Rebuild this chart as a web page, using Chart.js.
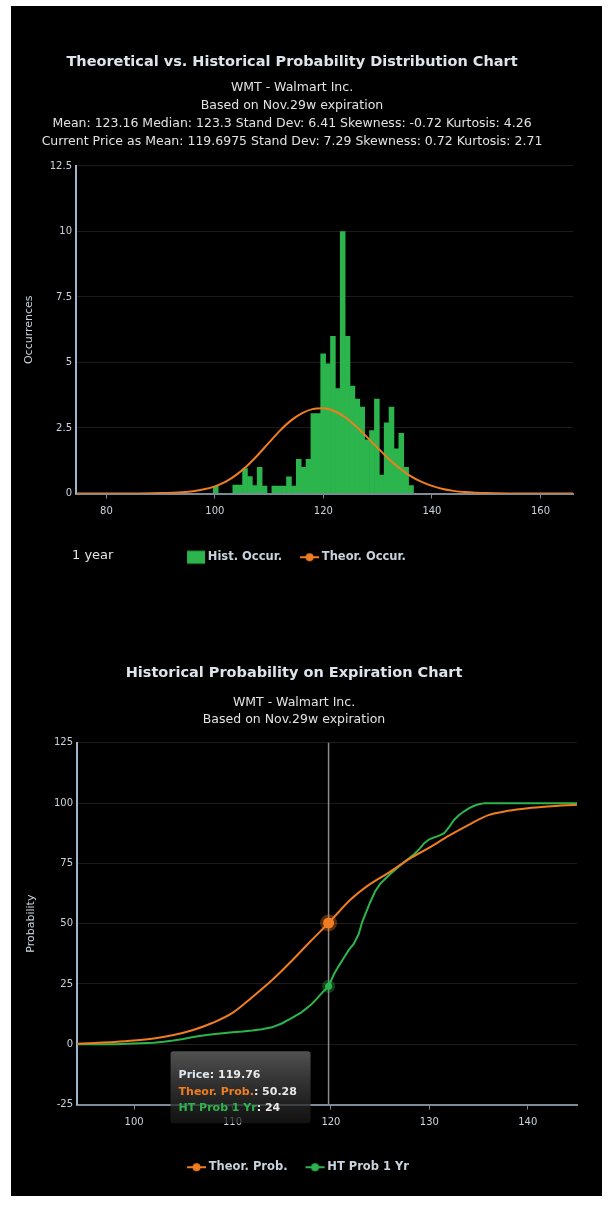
<!DOCTYPE html>
<html>
<head>
<meta charset="utf-8">
<script src="https://cdn.jsdelivr.net/npm/chart.js@4.4.1/dist/chart.umd.min.js"></script>
<style>
  html, body { margin: 0; padding: 0; background: #fff; }
  body { width: 608px; height: 1207px; position: relative; overflow: hidden; }
  #panel { position: absolute; left: 11px; top: 6px; width: 591px; height: 1190px; background: #000; }
  .box { position: absolute; left: 11px; }
  #box1 { top: 6px; }
  #box2 { top: 600px; }
  #yearLabel { position: absolute; left: 72px; top: 547px; line-height: 18px; color: #e4e4e4; font: 13px "DejaVu Sans", sans-serif; }
</style>
</head>
<body>
<div id="panel"></div>
<div class="box" id="box1"><canvas id="distChart" width="574" height="567"></canvas></div>
<div class="box" id="box2"><canvas id="probChart" width="574" height="583"></canvas></div>
<div id="yearLabel">1 year</div>
<script>
// ---- data ----
var histPrices = [100.15, 101.05, 101.95, 102.85, 103.75, 104.65, 105.55, 106.45, 107.35, 108.25,
  109.15, 110.05, 110.95, 111.85, 112.75, 113.65, 114.55, 115.45, 116.35, 117.25,
  118.15, 119.05, 119.95, 120.85, 121.75, 122.65, 123.55, 124.45, 125.35, 126.25,
  127.15, 128.05, 128.95, 129.85, 130.75, 131.65, 132.55, 133.45, 134.35, 135.25, 136.15];
var histCounts = [0.27, 0, 0, 0, 0.32, 0.32, 0.95, 0.65, 0.3, 1.0,
  0.28, 0, 0.28, 0.28, 0.28, 0.64, 0.28, 1.3, 1.0, 1.3,
  3.05, 3.05, 5.33, 4.95, 6.0, 4.0, 10.0, 6.0, 4.1, 3.6,
  3.3, 2.05, 2.4, 3.6, 0.7, 2.7, 3.3, 1.7, 2.3, 1.0, 0.3];

var theorPrices = [74, 80, 85, 90, 94, 96, 98, 100, 102, 104, 106, 108, 110, 112, 114, 116, 118, 120,
  122, 124, 126, 128, 130, 132, 134, 136, 138, 140, 142, 144, 146, 148, 150, 155, 160, 166];
var theorOccur = [0, 0, 0.003, 0.015, 0.05, 0.09, 0.16, 0.27, 0.45, 0.72, 1.07, 1.49, 1.95, 2.4, 2.78, 3.06, 3.22, 3.25,
  3.15, 2.91, 2.57, 2.16, 1.74, 1.33, 0.97, 0.67, 0.45, 0.29, 0.17, 0.1, 0.055, 0.03, 0.015, 0.003, 0, 0];

var probPrices = [94.2, 96, 98, 100, 102, 104, 106, 108, 110, 112, 114, 116, 118, 119.76, 122, 124, 126, 128,
  130, 132, 134, 136, 138, 140, 142, 144, 145];
var theorProb = [0.2, 0.5, 0.9, 1.5, 2.4, 3.8, 5.9, 8.9, 13, 19.5, 26.5, 34.5, 43, 50.28, 60, 66.5, 71.5, 77,
  81.5, 86.5, 91, 95, 96.8, 97.9, 98.6, 99.1, 99.3];

var htPrices = [94.2, 96, 98, 100, 102, 103, 104, 105, 106, 107, 108, 109, 110, 111, 112, 113, 114, 115, 116, 117,
  118, 118.6, 119.2, 119.76, 120.3, 120.8, 121.3, 121.8, 122.3, 122.8, 123.2, 123.6, 124, 124.5, 125, 125.5,
  126, 126.5, 127, 127.5, 128, 128.5, 129, 129.5, 130, 130.5, 131, 131.5, 132, 132.5, 133, 133.5, 134, 134.5,
  135, 135.6, 140, 145];
var htProb = [0, 0, 0, 0.3, 0.6, 1.0, 1.5, 2.2, 3.0, 3.6, 4.1, 4.6, 5.0, 5.3, 5.7, 6.2, 7.0, 8.6, 10.8, 13.2,
  16.5, 19, 21.8, 24, 29, 32.5, 35.8, 39, 41.5, 45.5, 51, 55, 59, 63.5, 66.5, 68.5,
  70.5, 72.3, 74, 75.8, 77.3, 79, 81, 83.5, 85, 85.8, 86.5, 87.5, 90, 93, 95, 96.5, 97.8, 98.8,
  99.5, 100, 100, 100];

var hoverPrice = 119.76;

var occTicks = [0, 2.5, 5, 7.5, 10, 12.5];
var priceTicks1 = [80, 100, 120, 140, 160];
var probTicks = [-25, 0, 25, 50, 75, 100, 125];
var priceTicks2 = [100, 110, 120, 130, 140];

// ---- look ----
var FONT = '"DejaVu Sans", sans-serif';
var ORANGE = '#f07d1f';
var GREEN = '#2bb54c';
var TXT = '#c9d3dd';
var GRID = '#1c1c1c';

function legendMarker(color, kind) {
  var c = document.createElement('canvas');
  c.width = 60; c.height = 16;
  var g = c.getContext('2d');
  g.fillStyle = color; g.strokeStyle = color;
  if (kind === 'box') {
    g.fillRect(27, 1.5, 18, 13);
  } else {
    g.lineWidth = 2;
    g.beginPath(); g.moveTo(26, 8); g.lineTo(45, 8); g.stroke();
    g.beginPath(); g.arc(35.5, 8, 4, 0, Math.PI * 2); g.fill();
  }
  return c;
}

function legendOpts(markers) {
  return {
    position: 'bottom',
    labels: {
      usePointStyle: true,
      pointStyleWidth: 24,
      padding: 10,
      color: TXT,
      font: { family: FONT, size: 11.5, weight: 'bold' },
      generateLabels: function(chart) {
        return chart.data.datasets.map(function(ds, i) {
          return { text: ds.label, pointStyle: markers[i], fillStyle: ds.borderColor,
                   strokeStyle: ds.borderColor, lineWidth: 0, fontColor: TXT, datasetIndex: i, hidden: false };
        });
      }
    }
  };
}

function pairs(xs, ys) {
  return xs.map(function(v, i) { return { x: v, y: ys[i] }; });
}

// ---- chart 1 ----
new Chart(document.getElementById('distChart'), {
  type: 'bar',
  data: {
    datasets: [
      {
        label: 'Hist. Occur.',
        data: pairs(histPrices, histCounts),
        backgroundColor: GREEN,
        borderColor: GREEN,
        borderWidth: 0,
        barPercentage: 1,
        categoryPercentage: 1,
        order: 2
      },
      {
        type: 'line',
        label: 'Theor. Occur.',
        data: pairs(theorPrices, theorOccur),
        borderColor: ORANGE,
        backgroundColor: ORANGE,
        borderWidth: 2,
        pointRadius: 0,
        cubicInterpolationMode: 'monotone',
        order: 1
      }
    ]
  },
  options: {
    responsive: false,
    animation: false,
    layout: { padding: { left: 0, right: 12, top: 0, bottom: 0 } },
    plugins: {
      tooltip: { enabled: false },
      title: {
        display: true,
        text: 'Theoretical vs. Historical Probability Distribution Chart',
        color: '#dde4ec',
        font: { family: FONT, size: 14.5, weight: 'bold', lineHeight: 1.3 },
        padding: { top: 46.6, bottom: 7.5 }
      },
      subtitle: {
        display: true,
        text: ['WMT - Walmart Inc.', 'Based on Nov.29w expiration',
               'Mean: 123.16 Median: 123.3 Stand Dev: 6.41 Skewness: -0.72 Kurtosis: 4.26',
               'Current Price as Mean: 119.6975 Stand Dev: 7.29 Skewness: 0.72 Kurtosis: 2.71'],
        color: '#e2e2e2',
        font: { family: FONT, size: 12.5, lineHeight: 1.44 },
        padding: { top: 0, bottom: 15 }
      },
      legend: legendOpts([legendMarker(GREEN, 'box'), legendMarker(ORANGE, 'line')])
    },
    scales: {
      x: {
        type: 'linear', min: 74.4, max: 166, offset: false,
        afterBuildTicks: function(s) { s.ticks = priceTicks1.map(function(v) { return { value: v }; }); },
        afterFit: function(s) { s.height = 48; },
        ticks: { color: TXT, font: { family: FONT, size: 10 }, padding: 7, maxRotation: 0 },
        grid: { offset: false, drawOnChartArea: false, drawTicks: true, tickLength: 5, color: '#7d8a97' },
        border: { color: '#7d8a97', width: 2 }
      },
      y: {
        min: 0, max: 12.5,
        afterBuildTicks: function(s) { s.ticks = occTicks.map(function(v) { return { value: v }; }); },
        afterFit: function(s) { s.width = 65; },
        ticks: { color: TXT, font: { family: FONT, size: 10 }, padding: 4 },
        grid: { color: GRID, drawTicks: false },
        border: { color: '#9fb5ca', width: 2 },
        title: { display: true, text: 'Occurrences', color: TXT, font: { family: FONT, size: 11 }, padding: { top: 12, bottom: 0 } }
      }
    }
  }
});

// ---- chart 2 ----
var hoverPlugin = {
  id: 'hoverReadout',
  beforeDatasetsDraw: function(chart) {
    var ctx = chart.ctx, a = chart.chartArea;
    var px = chart.scales.x.getPixelForValue(hoverPrice);
    ctx.save();
    ctx.strokeStyle = '#8a8a8a';
    ctx.lineWidth = 1.5;
    ctx.beginPath(); ctx.moveTo(px, a.top); ctx.lineTo(px, a.bottom); ctx.stroke();
    ctx.restore();
  },
  afterDraw: function(chart) {
    var ctx = chart.ctx;
    var px = chart.scales.x.getPixelForValue(hoverPrice);
    var top = chart.scales.y.getPixelForValue(0) + 7;
    var w = 140, h = 72, left = px - 18 - w;
    ctx.save();
    var grad = ctx.createLinearGradient(0, top, 0, top + h);
    grad.addColorStop(0, 'rgba(88,88,88,0.92)');
    grad.addColorStop(1, 'rgba(25,25,25,0.7)');
    ctx.fillStyle = grad;
    ctx.beginPath();
    ctx.roundRect(left, top, w, h, 3);
    ctx.fill();
    var theorVal = theorProb[probPrices.indexOf(hoverPrice)];
    var htVal = htProb[htPrices.indexOf(hoverPrice)];
    var rows = [
      [['Price', '#dfe7f0'], [': ' + hoverPrice, '#e8e8e8']],
      [['Theor. Prob.', ORANGE], [': ' + theorVal, '#e8e8e8']],
      [['HT Prob 1 Yr', GREEN], [': ' + htVal, '#e8e8e8']]
    ];
    ctx.font = 'bold 11px ' + FONT;
    ctx.textBaseline = 'middle';
    rows.forEach(function(row, r) {
      var x = left + 8, y = top + 24 + r * 16.5;
      row.forEach(function(seg) {
        ctx.fillStyle = seg[1];
        ctx.fillText(seg[0], x, y);
        x += ctx.measureText(seg[0]).width;
      });
    });
    ctx.restore();
  }
};

function hoverOnly(size) {
  return function(c) { return c.raw && c.raw.x === hoverPrice ? size : 0; };
}

new Chart(document.getElementById('probChart'), {
  type: 'line',
  data: {
    datasets: [
      {
        label: 'Theor. Prob.',
        data: pairs(probPrices, theorProb),
        borderColor: ORANGE,
        backgroundColor: ORANGE,
        borderWidth: 2,
        cubicInterpolationMode: 'monotone',
        pointRadius: hoverOnly(5.5),
        pointBackgroundColor: ORANGE,
        pointBorderColor: 'rgba(240,125,31,0.35)',
        pointBorderWidth: 6
      },
      {
        label: 'HT Prob 1 Yr',
        data: pairs(htPrices, htProb),
        borderColor: GREEN,
        backgroundColor: GREEN,
        borderWidth: 2,
        tension: 0,
        pointRadius: hoverOnly(3.5),
        pointBackgroundColor: GREEN,
        pointBorderColor: 'rgba(43,181,76,0.35)',
        pointBorderWidth: 6
      }
    ]
  },
  plugins: [hoverPlugin],
  options: {
    responsive: false,
    animation: false,
    layout: { padding: { left: 0, right: 8, top: 0, bottom: 0 } },
    plugins: {
      tooltip: { enabled: false },
      title: {
        display: true,
        text: 'Historical Probability on Expiration Chart',
        color: '#dde4ec',
        font: { family: FONT, size: 14.5, weight: 'bold', lineHeight: 1.3 },
        padding: { top: 64, bottom: 11 }
      },
      subtitle: {
        display: true,
        text: ['WMT - Walmart Inc.', 'Based on Nov.29w expiration'],
        color: '#e2e2e2',
        font: { family: FONT, size: 12.5, lineHeight: 1.36 },
        padding: { top: 0, bottom: 15 }
      },
      legend: legendOpts([legendMarker(ORANGE, 'line'), legendMarker(GREEN, 'line')])
    },
    scales: {
      x: {
        type: 'linear', min: 94.2, max: 145,
        afterBuildTicks: function(s) { s.ticks = priceTicks2.map(function(v) { return { value: v }; }); },
        afterFit: function(s) { s.height = 47; },
        ticks: { color: TXT, font: { family: FONT, size: 10 }, padding: 7, maxRotation: 0 },
        grid: { drawOnChartArea: false, drawTicks: true, tickLength: 5, color: '#7d8a97' },
        border: { color: '#7d8a97', width: 2 }
      },
      y: {
        min: -25, max: 125,
        afterBuildTicks: function(s) { s.ticks = probTicks.map(function(v) { return { value: v }; }); },
        afterFit: function(s) { s.width = 66; },
        ticks: { color: TXT, font: { family: FONT, size: 10 }, padding: 4 },
        grid: { color: GRID, drawTicks: false },
        border: { color: '#9fb5ca', width: 2 },
        title: { display: true, text: 'Probability', color: TXT, font: { family: FONT, size: 11 }, padding: { top: 14, bottom: 0 } }
      }
    }
  }
});
</script>
</body>
</html>
